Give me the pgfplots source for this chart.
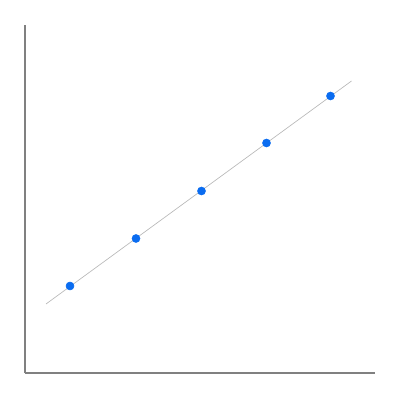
\documentclass[border=0pt]{standalone}
\usepackage{pgfplots}
\pgfplotsset{compat=1.18}
\definecolor{ptblue}{HTML}{0A6CF0}
\begin{document}
\begin{tikzpicture}
\begin{axis}[
  scale only axis,
  width=262.5pt, height=261pt,
  xmin=25, xmax=375, ymin=0, ymax=348,
  axis lines=left,
  axis line style={-, draw=black!50, line width=1pt},
  xtick=\empty, ytick=\empty,
  clip=false,
]
\addplot[draw=black!28, line width=0.5pt] coordinates {(46,69) (351.5,292)};
\addplot[only marks, mark=*, mark size=3pt, mark options={fill=ptblue, draw=ptblue}]
  coordinates {(70,87) (136,134.5) (201.5,182) (266.5,230) (330.5,277)};
\end{axis}
\path (current axis.south west) ++(-18.75pt,-20.25pt) coordinate (a);
\path (current axis.north east) ++(18.75pt,18.75pt) coordinate (b);
\path[use as bounding box] (a) rectangle (b);
\end{tikzpicture}
\end{document}
